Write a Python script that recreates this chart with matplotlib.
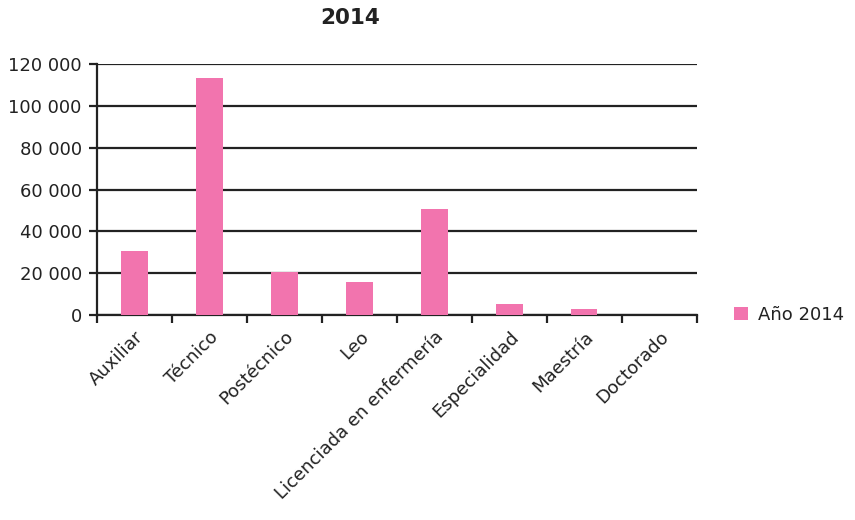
import matplotlib.pyplot as plt
from matplotlib.ticker import FuncFormatter

plt.rcParams['font.family'] = ['DejaVu Sans']

# Datos
categorias = ["Auxiliar", "Técnico", "Postécnico", "Leo", "Licenciada en enfermería",
              "Especialidad", "Maestría", "Doctorado"]
valores = [30400, 113100, 20800, 16000, 50600, 5400, 3000, 0]
serie = "Año 2014"
color_barra = "#F274AE"
oscuro = "#222222"

fig = plt.figure(figsize=(8.55, 5.2), dpi=100)
ax = fig.add_axes([0.1135, 0.394, 0.7015, 0.483])

x = list(range(len(categorias)))
ax.bar(x, valores, width=0.35, color=color_barra, label=serie, zorder=3)

ax.set_xlim(-0.5, len(categorias) - 0.5)
ax.set_ylim(0, 120000)
ax.set_yticks(range(0, 120001, 20000))
ax.yaxis.set_major_formatter(FuncFormatter(lambda v, p: f"{int(v):,}".replace(",", " ")))
ax.grid(axis='y', color=oscuro, linewidth=1.6, zorder=0)

# ticks del eje x entre categorías
ax.set_xticks([i - 0.5 for i in range(len(categorias) + 1)], minor=False)
ax.set_xticklabels([])
ax.set_xticks(x, minor=True)
ax.set_xticklabels(categorias, minor=True, rotation=45, ha='right',
                   rotation_mode='anchor', fontsize=13, color=oscuro)
ax.tick_params(axis='x', which='minor', length=0, pad=9)
ax.tick_params(axis='x', which='major', length=6, width=1.6, color=oscuro)
ax.tick_params(axis='y', length=6, width=1.6, color=oscuro, labelsize=13,
               labelcolor=oscuro, pad=5)

for s in ['top', 'right']:
    ax.spines[s].set_visible(False)
for s in ['left', 'bottom']:
    ax.spines[s].set_color(oscuro)
    ax.spines[s].set_linewidth(1.6)

fig.text(0.41, 0.965, "2014", fontsize=15.5, fontweight='bold', color=oscuro,
         ha='center', va='center')

ax.legend(loc='center left', bbox_to_anchor=(1.035, 0.0), frameon=False,
          fontsize=13, handlelength=0.75, handleheight=0.75, handletextpad=0.6,
          labelcolor=oscuro)

fig.savefig("out.png", dpi=100)
